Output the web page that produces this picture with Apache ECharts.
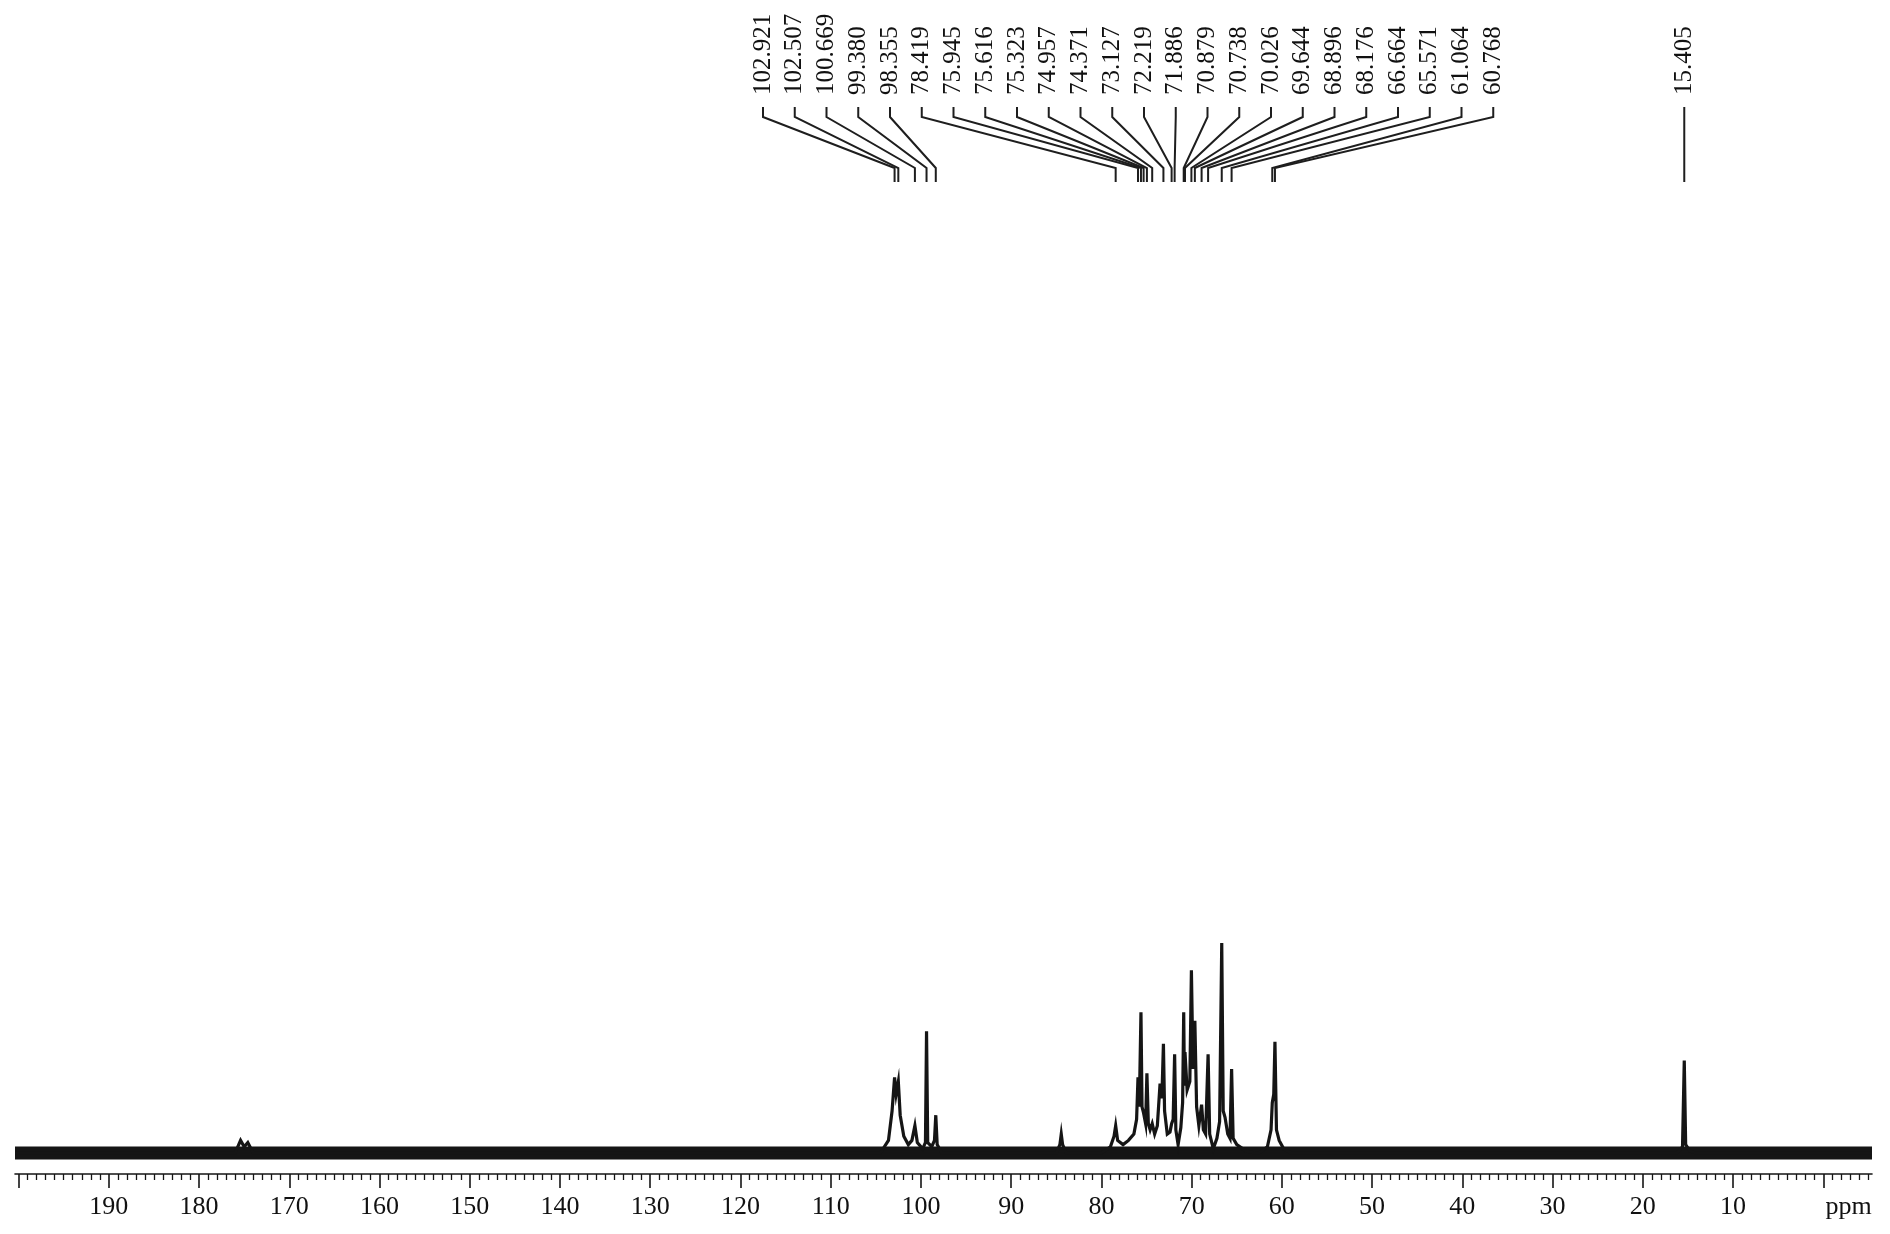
<!DOCTYPE html>
<html>
<head>
<meta charset="utf-8">
<script src="https://cdn.jsdelivr.net/npm/echarts@6/dist/echarts.min.js"></script>
<style>
html, body { margin: 0; padding: 0; background: #fff; }
#chart { width: 1890px; height: 1234px; }
</style>
</head>
<body>
<div id="chart"></div>
<script>
// picked peaks (ppm), fanned label group and the lone 15 ppm peak
var peakLabels = [102.921, 102.507, 100.669, 99.380, 98.355, 78.419, 75.945, 75.616,
  75.323, 74.957, 74.371, 73.127, 72.219, 71.886, 70.879, 70.738, 70.026, 69.644,
  68.896, 68.176, 66.664, 65.571, 61.064, 60.768];
var loneLabels = [15.405];

// major ticks / tick labels on the ppm axis
var majorTicks = [0, 10, 20, 30, 40, 50, 60, 70, 80, 90, 100, 110, 120, 130, 140, 150,
  160, 170, 180, 190, 200];
var tickLabels = [10, 20, 30, 40, 50, 60, 70, 80, 90, 100, 110, 120, 130, 140, 150,
  160, 170, 180, 190];
var unitLabelAt = -2.8;

// spectrum trace: [ppm, intensity] (tallest peak = 100)
var trace = [
  [200.4, 0], [176.0, 0], [175.4, 6], [175.0, 3], [174.6, 5], [174.0, 0],
  [104.5, 0], [103.6, 6], [103.2, 20], [102.921, 36], [102.75, 28], [102.507, 34],
  [102.3, 18], [101.9, 8], [101.4, 4], [101.0, 6], [100.669, 13], [100.4, 5],
  [99.8, 2], [99.5, 5], [99.380, 58], [99.25, 5], [98.8, 3], [98.5, 6], [98.355, 18],
  [98.2, 4], [97.7, 0],
  [85.0, 0], [84.6, 4], [84.45, 9], [84.3, 4], [83.9, 0],
  [80.0, 0], [79.0, 3], [78.6, 8], [78.419, 13], [78.2, 6], [77.6, 4], [77.0, 6],
  [76.4, 9], [76.1, 16], [75.945, 36], [75.8, 22], [75.616, 67], [75.5, 22],
  [75.323, 19], [75.1, 14], [74.957, 38], [74.8, 14], [74.6, 11], [74.371, 14],
  [74.1, 9], [73.8, 13], [73.5, 33], [73.3, 26], [73.127, 52], [73.0, 20], [72.7, 9],
  [72.4, 10], [72.219, 14], [72.05, 16], [71.886, 47], [71.75, 11], [71.5, 4],
  [71.2, 12], [71.0, 24], [70.879, 67], [70.8, 32], [70.738, 48], [70.5, 30],
  [70.2, 34], [70.026, 87], [69.85, 40], [69.644, 63], [69.45, 22], [69.2, 13],
  [68.896, 23], [68.7, 11], [68.45, 9], [68.176, 47], [68.0, 9], [67.6, 2], [67.2, 7],
  [66.9, 15], [66.664, 100], [66.5, 20], [66.3, 17], [66.0, 9], [65.75, 7],
  [65.571, 40], [65.4, 7], [65.0, 4], [64.0, 1], [63.0, 0],
  [62.5, 0], [61.6, 3], [61.2, 11], [61.064, 24], [60.9, 28], [60.768, 53],
  [60.6, 11], [60.3, 6], [59.8, 2], [59.0, 0],
  [16.2, 0], [15.6, 3], [15.405, 44], [15.25, 4], [14.8, 1], [14.2, 0],
  [-5.4, 0]
];

// baseline noise band
var noiseBand = [[200.4, 0], [-5.4, 0]];

var ink = "#151515";
var serif = '"Liberation Serif", "DejaVu Serif", serif';

var minorTicks = [];
for (var t = -5; t <= 200; t++) {
  if (t % 10 !== 0) minorTicks.push(t);
}

// label layout (pixels)
var labelStartX = 763, labelStep = 31.75;
var textBottom = 95, lineTop = 107, bendY = 117, footY = 168, lineEnd = 182;

var chart = echarts.init(document.getElementById("chart"));

var option = {
  backgroundColor: "#fff",
  animation: false,
  grid: { left: 15, right: 18, top: 182, bottom: 60 },
  xAxis: [
    {
      type: "value",
      inverse: true,
      min: -5.4,
      max: 200.4,
      position: "bottom",
      axisLine: { show: true, onZero: false, lineStyle: { color: ink, width: 1.6 } },
      axisTick: { show: true, customValues: majorTicks, length: 14, lineStyle: { color: ink, width: 1.6 } },
      axisLabel: {
        customValues: tickLabels.concat([unitLabelAt]),
        formatter: function (v) { return v < 0 ? "ppm" : String(v); },
        margin: 20,
        fontSize: 26,
        fontFamily: serif,
        color: "#111"
      },
      splitLine: { show: false }
    },
    {
      type: "value",
      inverse: true,
      min: -5.4,
      max: 200.4,
      position: "bottom",
      offset: 0,
      axisLine: { show: false, onZero: false },
      axisTick: { show: true, customValues: minorTicks, length: 6, lineStyle: { color: ink, width: 1.3 } },
      axisLabel: { show: false },
      splitLine: { show: false }
    }
  ],
  yAxis: { type: "value", min: -10, max: 462.4, show: false },
  series: [
    {
      name: "noise",
      type: "line",
      data: noiseBand,
      symbol: "none",
      lineStyle: { color: "#151515", width: 13, cap: "butt" },
      silent: true
    },
    {
      name: "13C",
      type: "line",
      data: trace,
      symbol: "none",
      lineStyle: { color: ink, width: 3.2, join: "miter" },
      silent: true
    },
    {
      name: "peak labels",
      type: "custom",
      clip: false,
      silent: true,
      data: peakLabels.map(function (p, i) { return [p, i, 0]; })
        .concat(loneLabels.map(function (p) { return [p, -1, 1]; })),
      renderItem: function (params, api) {
        var ppm = api.value(0);
        var idx = api.value(1);
        var lone = api.value(2) === 1;
        var px = api.coord([ppm, 0])[0];
        var lx = lone ? px : labelStartX + idx * labelStep;
        var pts = lone
          ? [[px, lineTop], [px, lineEnd]]
          : [[lx, lineTop], [lx, bendY], [px, footY], [px, lineEnd]];
        return {
          type: "group",
          children: [
            {
              type: "polyline",
              shape: { points: pts },
              style: { stroke: "#1e1e1e", lineWidth: 2, fill: null }
            },
            {
              type: "text",
              x: lx,
              y: textBottom,
              rotation: Math.PI / 2,
              style: {
                text: ppm.toFixed(3),
                font: "25px " + serif,
                fill: "#111",
                textAlign: "left",
                textVerticalAlign: "middle"
              }
            }
          ]
        };
      }
    }
  ]
};

chart.setOption(option);
</script>
</body>
</html>
